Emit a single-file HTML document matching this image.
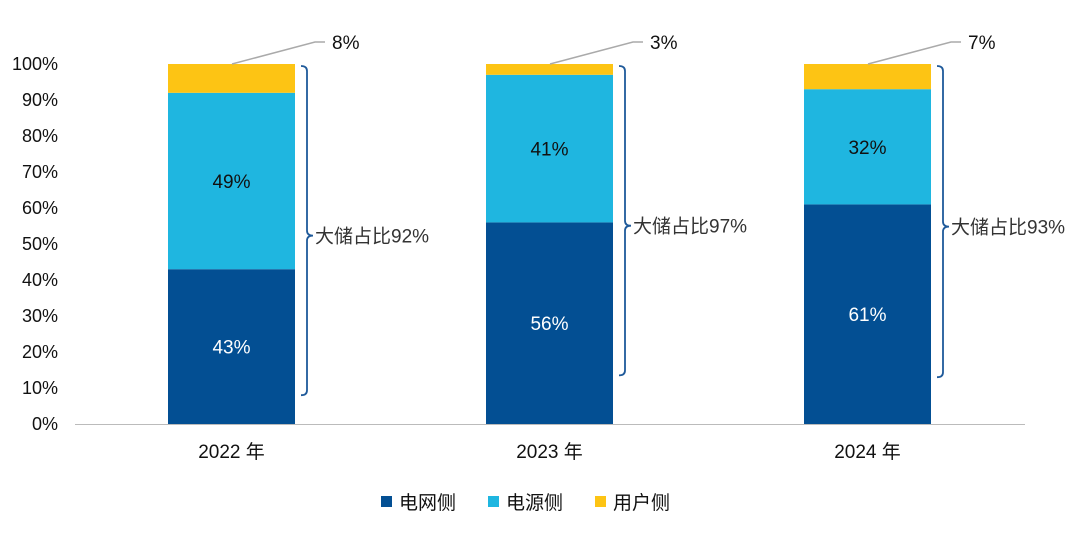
<!DOCTYPE html>
<html><head><meta charset="utf-8"><style>
body{margin:0;background:#fff;width:1080px;height:529px;overflow:hidden}
svg text{font-family:"Liberation Sans","Noto Sans CJK SC",sans-serif}
</style></head><body>
<svg id="c" width="1080" height="529" xmlns="http://www.w3.org/2000/svg"></svg>
<script>
const categories=["2022 年","2023 年","2024 年"];
const gridSide=[43,56,61];
const sourceSide=[49,41,32];
const userSide=[8,3,7];
const storageShare=["大储占比92%","大储占比97%","大储占比93%"];
const braceBottomPct=[8,13.5,13];
const yTicks=[0,10,20,30,40,50,60,70,80,90,100];
const seriesNames=["电网侧","电源侧","用户侧"];
const colors=["#034f93","#1fb6e0","#fdc414"];
const NS="http://www.w3.org/2000/svg";
const svg=document.getElementById("c");
const y0=424,y1=64;
const y=v=>y0-(y0-y1)*v/100;
const barX=i=>168+i*318,barW=127;
function el(tag,attrs,parent){const e=document.createElementNS(NS,tag);for(const k in attrs)e.setAttribute(k,attrs[k]);(parent||svg).appendChild(e);return e;}
function txt(s,attrs,parent){const e=el("text",attrs,parent);e.textContent=s;return e;}
// y axis ticks
yTicks.forEach(t=>{const e=txt(t+"%",{x:58,y:y(t)+6,"text-anchor":"end","font-size":18,fill:"#111"});

});
const ax=el("line",{x1:75,x2:1025,y1:y0+0.5,y2:y0+0.5,stroke:"#bbb","stroke-width":1});


categories.forEach((c,i)=>{
 const x=barX(i);
 const vals=[gridSide[i],sourceSide[i],userSide[i]];
 let base=0;
 vals.forEach((v,s)=>{
  const r=el("rect",{x:x,y:y(base+v),width:barW,height:y(base)-y(base+v),fill:colors[s]});
  
  
  if(s<2){const t=txt(v+"%",{x:x+barW/2,y:(y(base)+y(base+v))/2+7,"text-anchor":"middle","font-size":19,fill:s==0?"#fff":"#111"});
   
   }
  base+=v;
 });
 // callout for user side
 const top=y(100);
 const p=el("polyline",{points:`${x+64},${top} ${x+147},42 ${x+157},42`,fill:"none",stroke:"#aaa","stroke-width":1.5});
 
 
 const ut=txt(userSide[i]+"%",{x:x+164,y:49,"font-size":19,fill:"#111"});
 
 
 // brace
 const bx=x+barW+6,bt=y(100)+2,bb=y(braceBottomPct[i]),bm=(bt+bb)/2+5;
 const br=el("path",{d:`M${bx},${bt} q6,0 6,5 L${bx+6},${bm-5} q0,5 6,5 q-6,0 -6,5 L${bx+6},${bb-5} q0,5 -6,5`,fill:"none",stroke:"#1f5a9a","stroke-width":1.8});
 
 
 const st=txt(storageShare[i],{x:bx+14,y:bm+7,"font-size":19,fill:"#333"});
 
 
 const ct=txt(c,{x:x+barW/2,y:458,"text-anchor":"middle","font-size":19,fill:"#111"});
 
 
});
// legend
seriesNames.forEach((n,s)=>{
 const lx=381+s*107;
 const g=el("g",{});
 
 
 el("rect",{x:lx,y:496,width:11,height:11,fill:colors[s]},g);
 txt(n,{x:lx+18,y:509,"font-size":19,fill:"#111"},g);
});
</script>
</body></html>
